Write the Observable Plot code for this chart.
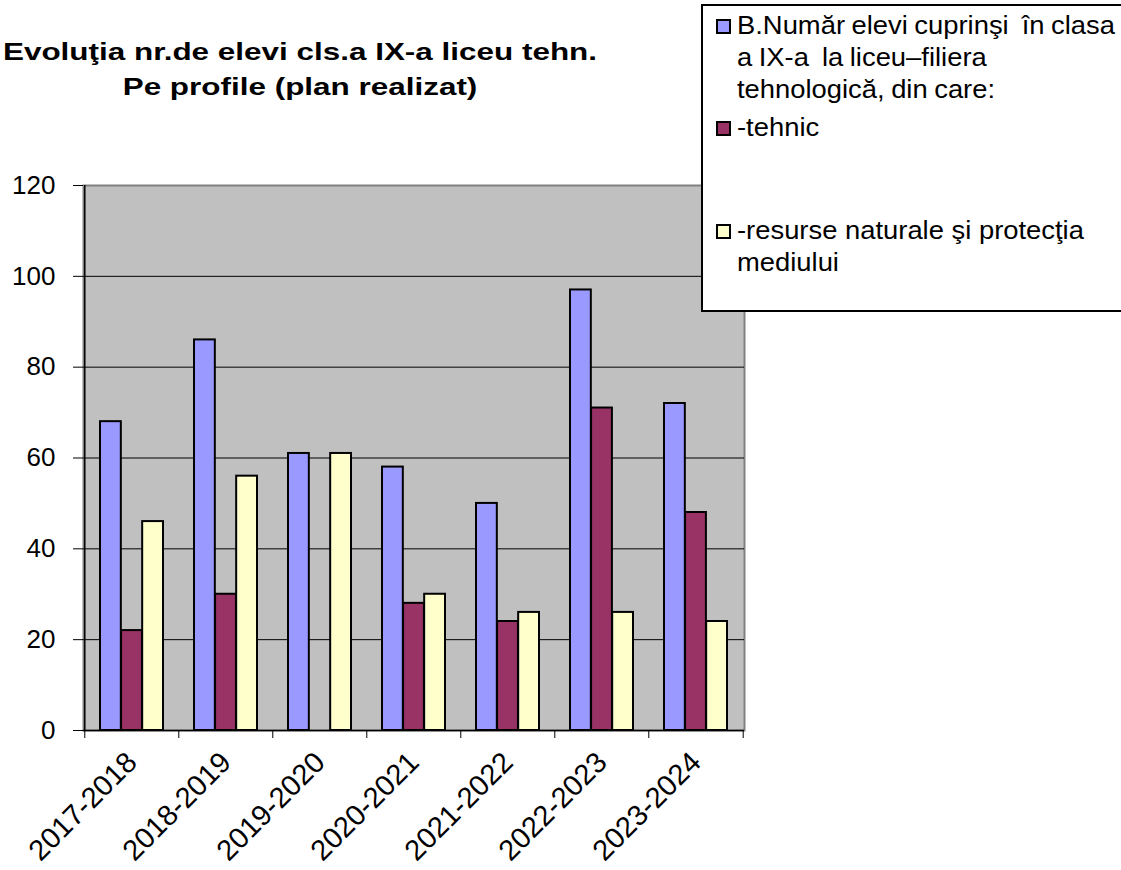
<!DOCTYPE html>
<html>
<head>
<meta charset="utf-8">
<script src="https://cdn.jsdelivr.net/npm/d3@7"></script>
<script src="https://cdn.jsdelivr.net/npm/@observablehq/plot@0.6"></script>
<style>
  html, body { margin: 0; padding: 0; background: #fff; }
  #wrap { position: relative; width: 1121px; height: 870px; overflow: hidden; font-family: "Liberation Sans", Arial, sans-serif; color: #000; }
  #chart { position: absolute; left: 0; top: 0; }
  .title { position: absolute; left: 300px; top: 34px; transform: translateX(-50%) scaleX(1.31); white-space: nowrap; text-align: center; font-weight: bold; font-size: 24px; line-height: 35px; }
  .lgbox { position: absolute; left: 701px; top: 4px; width: 440px; height: 308px; border: 2px solid #000; background: #fff; box-sizing: border-box; }
  .lgtext { position: absolute; left: 737px; font-size: 25px; line-height: 32px; white-space: pre; transform-origin: 0 0; transform: scaleX(1.095); }
  .sw { position: absolute; left: 716px; width: 15px; height: 15px; border: 2px solid #000; box-sizing: border-box; }
</style>
</head>
<body>
<div id="wrap">
  <div id="chart"></div>
</div>
<script>
const years = ["2017-2018", "2018-2019", "2019-2020", "2020-2021", "2021-2022", "2022-2023", "2023-2024"];
const seriesNames = [
  "B.Număr elevi cuprinşi  în clasa\na IX-a  la liceu–filiera\ntehnologică, din care:",
  "-tehnic",
  "-resurse naturale şi protecţia\nmediului"
];
const seriesColors = ["#9999FF", "#993366", "#FFFFCC"];
const totalValues = [68, 86, 61, 58, 50, 97, 72];
const tehnicValues = [22, 30, 0, 28, 24, 71, 48];
const resurseValues = [46, 56, 61, 30, 26, 26, 24];
const yTicks = [0, 20, 40, 60, 80, 100, 120];
const titleLines = ["Evoluţia nr.de elevi cls.a IX-a liceu tehn.", "Pe profile (plan realizat)"];

const seriesValues = [totalValues, tehnicValues, resurseValues];
const data = [];
seriesValues.forEach((vals, s) => vals.forEach((v, i) => data.push({year: years[i], series: s, value: v})));

const width = 1121, height = 870;
const mL = 83, mR = 377, mT = 185, mB = 140;
const padIn = 0.33, padOut = 0.165;
const step = (width - mL - mR) / (years.length - padIn + 2 * padOut);
const bw = step * (1 - padIn);
const barW = bw / 3;

const barMarks = [0, 1, 2].map(s => Plot.barY(data.filter(d => d.series === s && d.value > 0), {
  x: "year", y: "value", fill: seriesColors[s], stroke: "#000", strokeWidth: 2,
  insetLeft: s * barW, insetRight: (2 - s) * barW
}));

const plot = Plot.plot({
  width, height,
  marginLeft: mL, marginRight: mR, marginTop: mT, marginBottom: mB,
  style: {fontFamily: "'Liberation Sans', Arial, sans-serif", fontSize: "26px", color: "#000", background: "transparent", overflow: "visible"},
  x: {domain: years, paddingInner: padIn, paddingOuter: padOut, label: null},
  y: {domain: [0, 120], label: null},
  marks: [
    Plot.frame({fill: "#C0C0C0", stroke: "#808080", strokeWidth: 2}),
    Plot.gridY(yTicks.filter(t => t > 0 && t < 120), {stroke: "#000", strokeOpacity: 1, strokeWidth: 1}),
    ...barMarks,
    Plot.ruleY([0], {stroke: "#000", strokeWidth: 1.5}),
    Plot.ruleX([years[0]], {dx: -step / 2, stroke: "#000", strokeWidth: 1.5}),
    Plot.axisY({ticks: yTicks, tickSize: 10, tickPadding: 18, label: null, fontSize: 26}),
    Plot.axisX({ticks: years, tickSize: 8, tickFormat: () => "", dx: -step / 2, label: null}),
    Plot.axisX({ticks: [years[years.length - 1]], tickSize: 8, tickFormat: () => "", dx: step / 2, label: null}),
    Plot.axisX({ticks: years, tickSize: 0, tickPadding: 27, tickRotate: -45, label: null, fontSize: 29})
  ]
});
document.getElementById("chart").appendChild(plot);

const wrap = document.getElementById("wrap");
const t = document.createElement("div");
t.className = "title";
t.innerHTML = titleLines.join("<br>");
wrap.appendChild(t);

const box = document.createElement("div");
box.className = "lgbox";
wrap.appendChild(box);
const itemTops = [9, 111, 214];
seriesNames.forEach((name, s) => {
  const sw = document.createElement("div");
  sw.className = "sw";
  sw.style.top = (itemTops[s] + 10) + "px";
  sw.style.background = seriesColors[s];
  wrap.appendChild(sw);
  const tx = document.createElement("div");
  tx.className = "lgtext";
  tx.style.top = itemTops[s] + "px";
  if (s === 0) tx.style.wordSpacing = "-1px";
  tx.textContent = name;
  wrap.appendChild(tx);
});
</script>
</body>
</html>
